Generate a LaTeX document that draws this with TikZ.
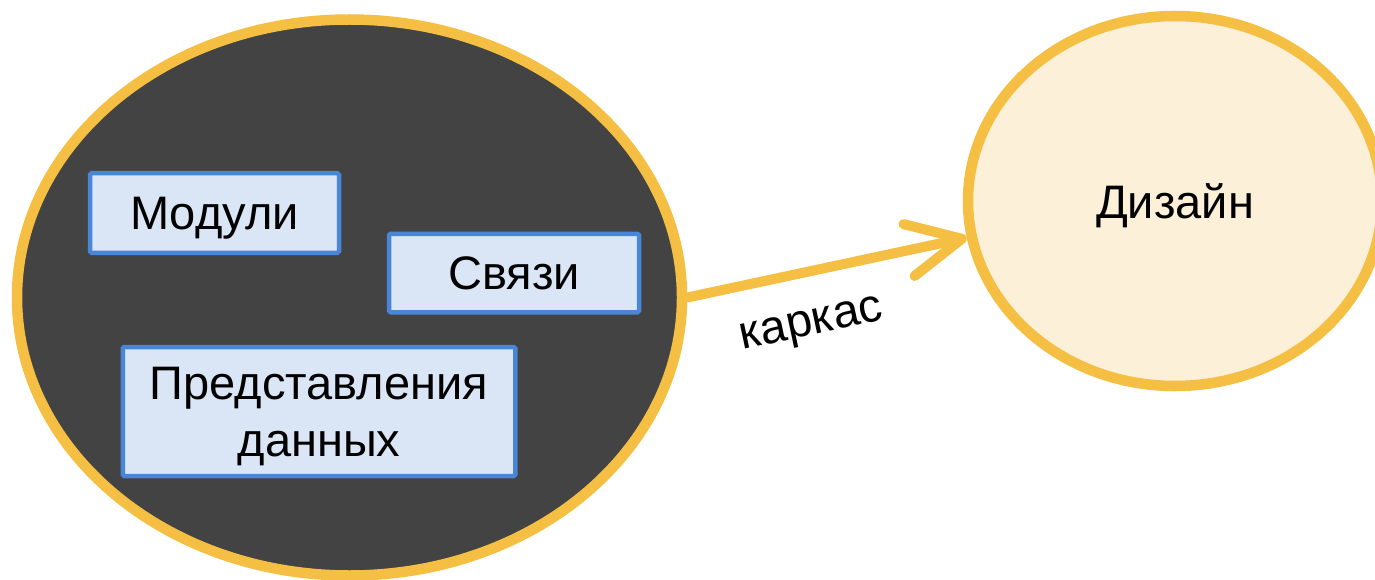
\documentclass[tikz,border=0pt]{standalone}
\usepackage{fontspec}
\setmainfont{Liberation Sans}
\usetikzlibrary{shapes.geometric,arrows.meta}

\definecolor{rim}{HTML}{F4BF42}
\definecolor{coal}{HTML}{434343}
\definecolor{cream}{HTML}{FDF0D9}
\definecolor{boxfill}{HTML}{DAE5F6}
\definecolor{boxedge}{HTML}{4A86D8}

\tikzset{
  bigtext/.style={font=\fontsize{47}{57}\selectfont},
  blob/.style={ellipse, draw=rim, line width=10.5pt, inner sep=0pt},
  part/.style={rectangle, draw=boxedge, fill=boxfill, line width=4.5pt,
    rounded corners=1.5pt, inner sep=0pt, align=center, text depth=0pt, bigtext},
  link/.style={draw=rim, line width=10pt, line cap=round,
    -{Straight Barb[length=54pt, width=53pt, round]}}
}

\begin{document}
\begin{tikzpicture}[x=1pt, y=-1pt]
  \useasboundingbox (0,0) rectangle (1375,580);
  \clip (0,0) rectangle (1375,580);

  % the framework and the design it leads to
  \node[blob, fill=coal, minimum width=665pt, minimum height=556pt] (frame) at (349.5,297.5) {};
  \node[blob, fill=cream, minimum width=414pt, minimum height=370pt, text depth=0pt, bigtext] (design) at (1175,201) {Дизайн};

  % parts of the framework
  \node[part, minimum width=249pt, minimum height=79.5pt] (modules) at (214.5,213) {Модули};
  \node[part, minimum width=250pt, minimum height=78.5pt] (links) at (514,273) {Связи};
  \node[part, minimum width=392.5pt, minimum height=129pt] (views) at (319,411.5) {Представления\\данных};

  % connector
  \draw[link] (frame.east) -- (design.190);
  \node[bigtext, rotate=12] (label) at (812,327) {каркас};
\end{tikzpicture}
\end{document}
